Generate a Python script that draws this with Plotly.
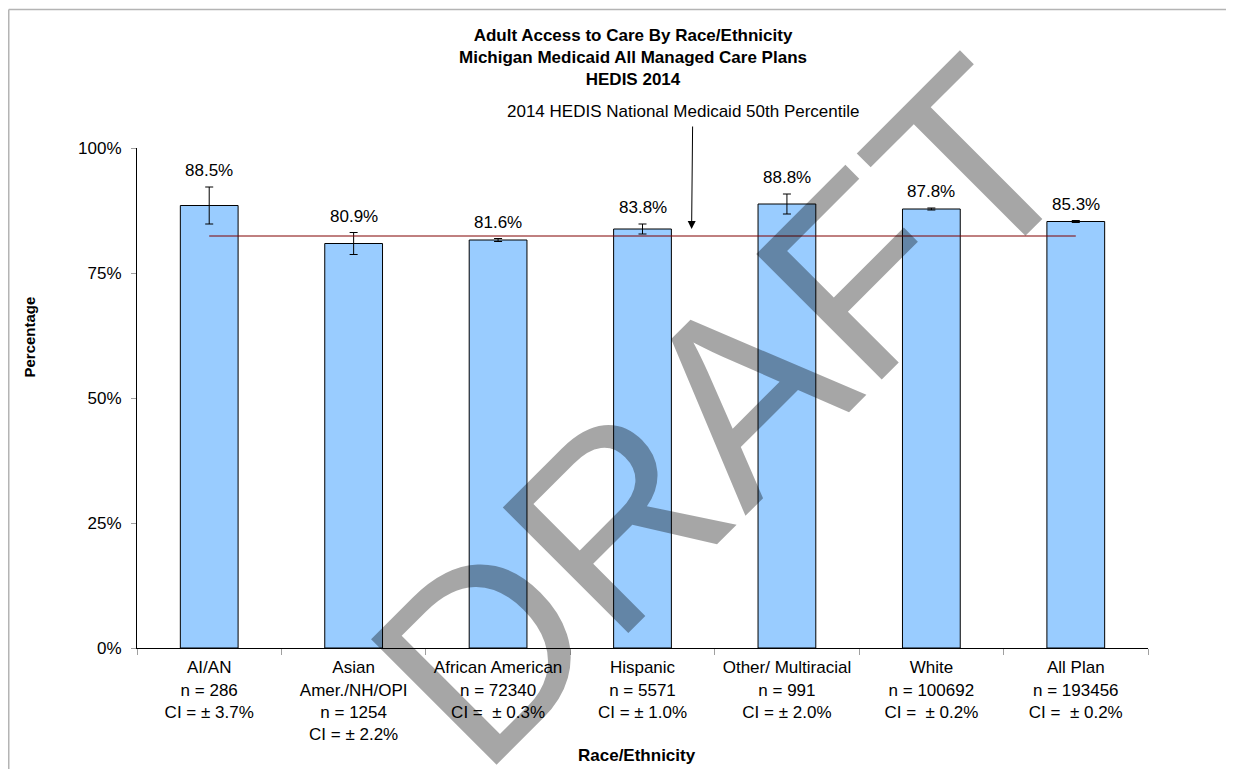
import plotly.graph_objects as go

# ---- data ----
categories = ["AI/AN", "Asian Amer./NH/OPI", "African American", "Hispanic",
              "Other/ Multiracial", "White", "All Plan"]
tick_labels = [
    "AI/AN<br>n = 286<br>CI = ± 3.7%",
    "Asian<br>Amer./NH/OPI<br>n = 1254<br>CI = ± 2.2%",
    "African American<br>n = 72340<br>CI =\u00a0 ± 0.3%",
    "Hispanic<br>n = 5571<br>CI = ± 1.0%",
    "Other/ Multiracial<br>n = 991<br>CI = ± 2.0%",
    "White<br>n = 100692<br>CI =\u00a0 ± 0.2%",
    "All Plan<br>n = 193456<br>CI =\u00a0 ± 0.2%",
]
rates = [88.5, 80.9, 81.6, 83.8, 88.8, 87.8, 85.3]
ci = [3.7, 2.2, 0.3, 1.0, 2.0, 0.2, 0.2]
benchmark = 82.4
benchmark_label = "2014 HEDIS National Medicaid 50th Percentile"
y_ticks = [0, 25, 50, 75, 100]
y_tick_text = ["0%", "25%", "50%", "75%", "100%"]

# page has an 8px body margin: figure is sized to fit the window without scrolling
OFF = 8
W, H = 1234 - 2 * OFF, 777 - 2 * OFF
ML, MR, MT, MB = 129, 78, 140, 121
PW, PH = W - ML - MR, H - MT - MB


def sx(screen_x):
    return (screen_x - OFF - ML) / PW


def sy(screen_y):
    return (H - MB - (screen_y - OFF)) / PH


FONT = "Liberation Sans, Arial, sans-serif"

fig = go.Figure()
fig.add_bar(
    x=categories, y=rates, width=0.4,
    marker=dict(color="#99CCFF", line=dict(color="black", width=1)),
    error_y=dict(type="data", array=ci, color="black", thickness=1, width=4),
    hoverinfo="x+y",
)

annotations = []
for c, r, e in zip(categories, rates, ci):
    annotations.append(dict(x=c, y=r + e, text=f"{r:.1f}%", showarrow=False,
                            xanchor="center", yanchor="bottom", yshift=5,
                            font=dict(size=17, color="black", family=FONT)))

# benchmark label and arrow
annotations.append(dict(xref="paper", yref="paper", x=sx(682.5), y=sy(112),
                        xanchor="center", yanchor="middle",
                        text=benchmark_label, showarrow=False,
                        font=dict(size=17, color="black", family=FONT)))
annotations.append(dict(x=3.34, y=83.8, text="", showarrow=True, ax=1, ay=-104,
                        arrowhead=2, arrowsize=1.6, arrowwidth=1, arrowcolor="black"))

# axis titles
annotations.append(dict(xref="paper", yref="paper", x=sx(28.5), y=sy(337),
                        xanchor="center", yanchor="middle",
                        text="<b>Percentage</b>", textangle=-90, showarrow=False,
                        font=dict(size=15, color="black", family=FONT)))
annotations.append(dict(xref="paper", yref="paper", x=sx(637), y=sy(755),
                        xanchor="center", yanchor="middle",
                        text="<b>Race/Ethnicity</b>", showarrow=False,
                        font=dict(size=17, color="black", family=FONT)))

# watermark
annotations.append(dict(xref="paper", yref="paper", x=sx(722), y=sy(412),
                        xanchor="center", yanchor="middle",
                        text="DRAFT", textangle=-45, showarrow=False,
                        font=dict(size=258, color="rgba(0,0,0,0.35)", family=FONT)))

shapes = [
    dict(type="line", xref="x", yref="y", x0=0, x1=len(categories) - 1,
         y0=benchmark, y1=benchmark, line=dict(color="#800000", width=1)),
    dict(type="line", xref="paper", yref="paper", x0=(0.75 - ML) / PW, x1=(W + 5 - ML) / PW,
         y0=(H - MB - 1.5) / PH, y1=(H - MB - 1.5) / PH, line=dict(color="#B4B4B4", width=1.5)),
    dict(type="line", xref="paper", yref="paper", x0=(0.75 - ML) / PW, x1=(0.75 - ML) / PW,
         y0=(H - MB - 1.5) / PH, y1=(-MB - 5) / PH, line=dict(color="#B4B4B4", width=1.5)),
]

fig.update_layout(
    width=W, height=H,
    margin=dict(l=ML, r=MR, t=MT, b=MB, pad=0),
    paper_bgcolor="white", plot_bgcolor="white",
    font=dict(family=FONT, size=17, color="black"),
    showlegend=False,
    title=dict(text="<b>Adult Access to Care By Race/Ethnicity<br>Michigan Medicaid All Managed Care Plans<br>HEDIS 2014</b>",
               x=(633 - OFF) / W, xanchor="center", xref="container",
               y=1 - 33 / H, yanchor="top", yref="container",
               font=dict(size=17, color="black", family=FONT)),
    annotations=annotations,
    shapes=shapes,
    bargap=0.6,
)
fig.update_xaxes(type="category", tickmode="array", tickvals=categories, ticktext=tick_labels,
                 tickson="boundaries", ticks="outside", ticklen=6, tickcolor="#A0A0A0",
                 showline=True, linecolor="black", linewidth=1, showgrid=False,
                 range=[-0.5, len(categories) - 0.5], ticklabelstandoff=4,
                 tickfont=dict(size=17, color="black", family=FONT))
fig.update_yaxes(range=[0, 100], tickmode="array", tickvals=y_ticks, ticktext=y_tick_text,
                 ticks="outside", ticklen=5, tickcolor="#A0A0A0",
                 showline=True, linecolor="black", linewidth=1, showgrid=False,
                 zeroline=False, ticklabelstandoff=6,
                 tickfont=dict(size=17, color="black", family=FONT))

fig.write_html("out.html")
